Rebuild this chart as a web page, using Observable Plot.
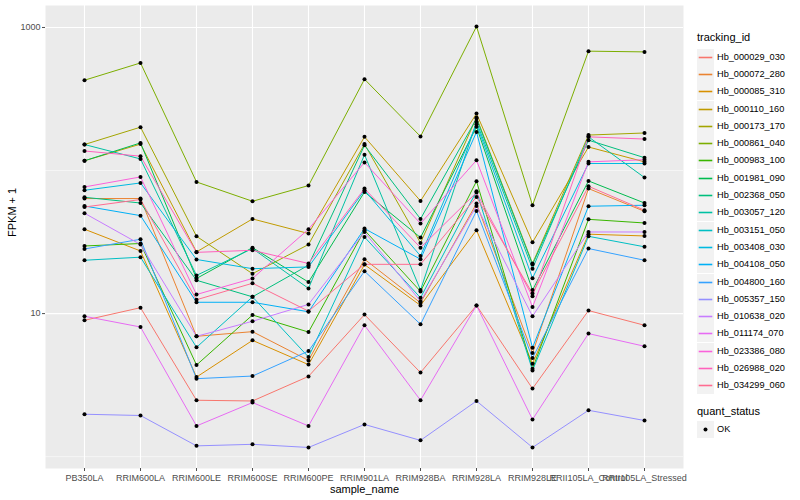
<!DOCTYPE html>
<html>
<head>
<meta charset="utf-8">
<script src="https://cdn.jsdelivr.net/npm/d3@7"></script>
<script src="https://cdn.jsdelivr.net/npm/@observablehq/plot@0.6"></script>
<style>
  html, body { margin: 0; padding: 0; background: white; }
  #wrap { position: relative; width: 800px; height: 500px; font-family: "Liberation Sans", Arial, sans-serif; }
  #chart { position: absolute; left: 0; top: 0; }
  #legend { position: absolute; left: 697px; top: 0; width: 103px; height: 500px; }
  .lt { position: absolute; font-size: 11px; color: #000; white-space: nowrap; }
  .kl { position: absolute; font-size: 9.2px; color: #000; white-space: nowrap; }
  .key { position: absolute; }
</style>
</head>
<body>
<div id="wrap"><div id="chart"></div><div id="legend"></div></div>
<script>
const samples = ["PB350LA","RRIM600LA","RRIM600LE","RRIM600SE","RRIM600PE","RRIM901LA","RRIM928BA","RRIM928LA","RRIM928LE","RRII105LA_Control","RRII105LA_Stressed"];
const ids = ["Hb_000029_030","Hb_000072_280","Hb_000085_310","Hb_000110_160","Hb_000173_170","Hb_000861_040","Hb_000983_100","Hb_001981_090","Hb_002368_050","Hb_003057_120","Hb_003151_050","Hb_003408_030","Hb_004108_050","Hb_004800_160","Hb_005357_150","Hb_010638_020","Hb_011174_070","Hb_023386_080","Hb_026988_020","Hb_034299_060"];
const palette = ["#F8766D","#EA8331","#D89000","#C09B00","#A3A500","#7CAE00","#39B600","#00BB4E","#00BF7D","#00C1A3","#00BFC4","#00BAE0","#00B0F6","#35A2FF","#9590FF","#C77CFF","#E76BF3","#FA62DB","#FF62BC","#FF6C91"];

// FPKM + 1, one array per tracking_id, in sample order
const Hb_000029_030 = [8.98, 11.0, 2.48, 2.45, 3.64, 9.84, 3.87, 11.4, 2.99, 10.5, 8.29];
const Hb_000072_280 = [63.7, 63.7, 6.94, 7.48, 4.71, 24.0, 11.9, 58.8, 5.30, 74.8, 51.9];
const Hb_000085_310 = [38.9, 27.4, 3.60, 6.50, 4.40, 22.0, 11.4, 38.3, 4.47, 35.9, 34.9];
const Hb_000110_160 = [117, 153, 27.0, 45.9, 36.3, 172, 61.3, 250, 31.5, 146, 115];
const Hb_000173_170 = [152, 201, 34.7, 19.0, 30.4, 153, 31.2, 235, 22.4, 177, 183];
const Hb_000861_040 = [428, 565, 83.2, 61.0, 78.5, 435, 173, 1015, 57.2, 683, 675];
const Hb_000983_100 = [29.7, 30.9, 4.37, 9.78, 7.43, 38.3, 14.3, 84.2, 4.12, 45.6, 43.0];
const Hb_001981_090 = [117, 156, 17.6, 28.9, 16.6, 70.8, 34.0, 202, 14.6, 84.6, 59.3];
const Hb_002368_050 = [65.0, 59.3, 17.1, 13.1, 21.8, 150, 45.9, 231, 22.0, 163, 123];
const Hb_003057_120 = [152, 120.5, 18.5, 28.5, 15.0, 129, 14.6, 219, 20.6, 172, 89.3];
const Hb_003151_050 = [23.6, 24.8, 5.81, 13.1, 4.97, 34.3, 12.9, 71.6, 4.01, 34.7, 29.3];
const Hb_003408_030 = [72.8, 81.9, 23.9, 20.6, 21.2, 72.8, 25.3, 211, 17.7, 112, 112];
const Hb_004108_050 = [56.5, 48.4, 12.0, 12.0, 10.3, 39.3, 24.0, 186, 5.78, 56.3, 57.2];
const Hb_004800_160 = [28.3, 33.1, 3.51, 3.66, 5.47, 19.8, 8.42, 52.2, 4.89, 28.5, 23.6];
const Hb_005357_150 = [1.98, 1.94, 1.19, 1.22, 1.16, 1.68, 1.30, 2.45, 1.16, 2.11, 1.79];
const Hb_010638_020 = [50.3, 30.4, 6.94, 8.84, 11.6, 37.2, 12.2, 56.5, 9.58, 37.2, 37.2];
const Hb_011174_070 = [9.58, 8.06, 1.64, 2.39, 1.64, 8.29, 2.48, 11.4, 1.82, 7.25, 5.91];
const Hb_023386_080 = [76.8, 90.2, 13.6, 17.6, 38.9, 114, 42.6, 118, 11.1, 115, 119];
const Hb_026988_020 = [137, 126, 26.8, 27.7, 22.4, 74.8, 28.9, 70.2, 13.2, 172, 166];
const Hb_034299_060 = [55.6, 62.7, 12.5, 16.3, 10.4, 22.1, 22.1, 65.4, 13.8, 77.6, 52.8];

const seriesValues = [Hb_000029_030, Hb_000072_280, Hb_000085_310, Hb_000110_160, Hb_000173_170, Hb_000861_040, Hb_000983_100, Hb_001981_090, Hb_002368_050, Hb_003057_120, Hb_003151_050, Hb_003408_030, Hb_004108_050, Hb_004800_160, Hb_005357_150, Hb_010638_020, Hb_011174_070, Hb_023386_080, Hb_026988_020, Hb_034299_060];

const yMajor = [10, 1000];
const yMinor = [1, 100];

const data = [];
ids.forEach((id, i) => samples.forEach((s, j) => data.push({id, sample: s, value: seriesValues[i][j]})));

// ggplot-style 5% expansion on log scale
const lv = data.map(d => Math.log10(d.value));
const lo = d3.min(lv), hi = d3.max(lv), pad = (hi - lo) * 0.05;
const yDomain = [Math.pow(10, lo - pad), Math.pow(10, hi + pad)];

const chart = Plot.plot({
  width: 690,
  height: 500,
  marginLeft: 45,
  marginRight: 7,
  marginTop: 5,
  marginBottom: 32,
  style: {fontFamily: "'Liberation Sans', Arial, sans-serif", background: "white"},
  x: {type: "point", domain: samples, padding: 0.6, label: null},
  y: {type: "log", domain: yDomain, label: null},
  color: {domain: ids, range: palette},
  marks: [
    Plot.frame({fill: "#EBEBEB", stroke: "none"}),
    Plot.ruleY(yMinor, {stroke: "white", strokeWidth: 0.55}),
    Plot.ruleY(yMajor, {stroke: "white", strokeWidth: 1.1}),
    Plot.ruleX(samples, {stroke: "white", strokeWidth: 1.1}),
    Plot.line(data, {x: "sample", y: "value", z: "id", stroke: "id", strokeWidth: 1}),
    Plot.dot(data, {x: "sample", y: "value", r: 2, fill: "black", stroke: "none"}),
    Plot.axisX({tickSize: 3, tickPadding: 3, fontSize: 9, color: "#4D4D4D", label: null}),
    Plot.axisY({ticks: yMajor, tickFormat: d => String(d), tickSize: 3, tickPadding: 2, fontSize: 9, color: "#4D4D4D", label: null}),
    Plot.text(["sample_name"], {frameAnchor: "bottom", dy: 21, lineAnchor: "middle", fontSize: 11, fill: "black"}),
    Plot.text(["FPKM + 1"], {frameAnchor: "left", dx: -33, rotate: -90, lineAnchor: "middle", fontSize: 11, fill: "black"})
  ]
});
document.getElementById("chart").appendChild(chart);

// Legend (right side)
const legend = document.getElementById("legend");
const NS = "http://www.w3.org/2000/svg";
function addText(cls, text, left, top) {
  const el = document.createElement("div");
  el.className = cls;
  el.textContent = text;
  el.style.left = left + "px";
  el.style.top = top + "px";
  legend.appendChild(el);
}
function addKey(top, draw) {
  const svg = document.createElementNS(NS, "svg");
  svg.setAttribute("class", "key");
  svg.setAttribute("width", 17);
  svg.setAttribute("height", 17);
  svg.style.left = "0px";
  svg.style.top = top + "px";
  const r = document.createElementNS(NS, "rect");
  r.setAttribute("width", 17); r.setAttribute("height", 17); r.setAttribute("fill", "#F2F2F2");
  svg.appendChild(r);
  draw(svg);
  legend.appendChild(svg);
}
addText("lt", "tracking_id", 0, 31);
const keyH = 17.3, key0 = 48.6;
ids.forEach((id, i) => {
  const top = Math.round(key0 + i * keyH);
  addKey(top, svg => {
    const l = document.createElementNS(NS, "line");
    l.setAttribute("x1", 1.7); l.setAttribute("x2", 15.3);
    l.setAttribute("y1", 8.5); l.setAttribute("y2", 8.5);
    l.setAttribute("stroke", palette[i]); l.setAttribute("stroke-width", 1.6);
    svg.appendChild(l);
  });
  addText("kl", id, 20, top + 2.5);
});
addText("lt", "quant_status", 0, 405);
addKey(421, svg => {
  const c = document.createElementNS(NS, "circle");
  c.setAttribute("cx", 8.5); c.setAttribute("cy", 8.5); c.setAttribute("r", 2); c.setAttribute("fill", "black");
  svg.appendChild(c);
});
addText("kl", "OK", 20, 424);
</script>
</body>
</html>
